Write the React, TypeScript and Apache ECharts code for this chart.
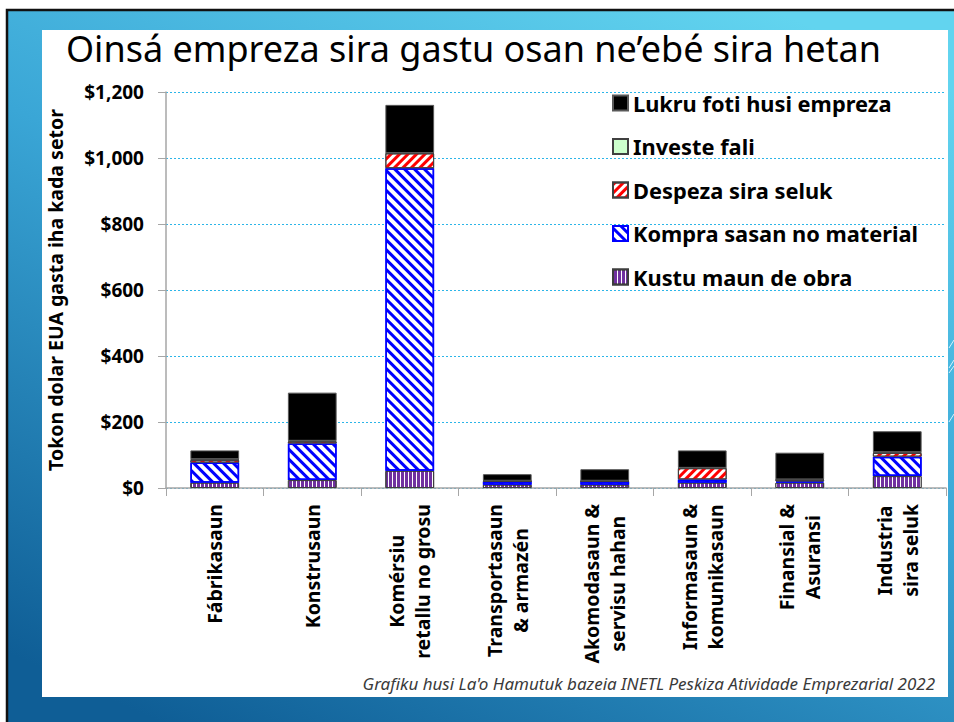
import React, { useEffect, useRef } from 'react';
import * as echarts from 'echarts';

const categories = [
  'Fábrikasaun',
  'Konstrusaun',
  'Komérsiu\nretallu no grosu',
  'Transportasaun\n& armazén',
  'Akomodasaun &\nservisu hahan',
  'Informasaun &\nkomunikasaun',
  'Finansial &\nAsuransi',
  'Industria\nsira seluk',
];
const kustuMaunDeObra = [16, 24, 52, 10, 10, 16, 16, 36];
const kompraSasanNoMaterial = [61, 111, 917, 10, 10, 10, 4, 59];
const despezaSiraSeluk = [8, 6, 45, 1, 1, 34, 5, 11];
const investeFali = [2, 2, 1, 1, 1, 1, 1, 2];
const lukruFotiHusiEmpreza = [27, 146, 146, 20, 35, 53, 81, 64];

const yMin = 0;
const yMax = 1200;
const yStep = 200;

const titleText = 'Oinsá empreza sira gastu osan ne’ebé sira hetan';
const yName = 'Tokon dolar EUA gasta iha kada setor';
const footer = "Grafiku husi La'o Hamutuk bazeia INETL Peskiza Atividade Emprezarial 2022";

const FONT = '"Noto Sans", "DejaVu Sans", sans-serif';

export default function App() {
  const ref = useRef<HTMLDivElement>(null);
  useEffect(() => {
    if (!ref.current) return;
    const chart = echarts.init(ref.current, undefined, { renderer: 'svg' });
    const stripeBlue = {
      symbol: 'rect', symbolSize: 1, symbolKeepAspect: false, color: '#0000ff',
      dashArrayX: [1, 0], dashArrayY: [3, 4], rotation: Math.PI / 4,
    };
    const stripeRed = {
      symbol: 'rect', symbolSize: 1, symbolKeepAspect: false, color: '#ff0000',
      dashArrayX: [1, 0], dashArrayY: [3, 3], rotation: -Math.PI / 4,
    };
    const stripePurple = {
      symbol: 'rect', symbolSize: 1, symbolKeepAspect: false, color: '#ffffff',
      dashArrayX: [1, 3], dashArrayY: [10, 0], rotation: 0,
    };
    const bar = (name: string, data: number[], itemStyle: any) => ({
      name, type: 'bar', stack: 'total', data, barWidth: '50%', itemStyle,
    });
    const option: any = {
      animation: false,
      graphic: [
        {
          type: 'rect', z: -10, silent: true,
          shape: { x: 7, y: 10, width: 960, height: 730 },
          style: {
            fill: {
              type: 'linear', x: 0.8, y: 0, x2: 0.2, y2: 1,
              colorStops: [
                { offset: 0, color: '#62d4ef' },
                { offset: 0.45, color: '#3aa6d6' },
                { offset: 1, color: '#0f5e96' },
              ],
            },
            stroke: '#111111', lineWidth: 2.5,
          },
        },
        {
          type: 'rect', z: -9, silent: true,
          shape: { x: 42, y: 30, width: 906, height: 667 },
          style: { fill: '#ffffff' },
        },
        { type: 'line', z: -8, shape: { x1: 949, y1: 348, x2: 954, y2: 340 }, style: { stroke: '#d8f2fb', lineWidth: 1 } },
        { type: 'line', z: -8, shape: { x1: 949, y1: 368, x2: 954, y2: 360 }, style: { stroke: '#d8f2fb', lineWidth: 1 } },
        { type: 'line', z: -8, shape: { x1: 949, y1: 373, x2: 954, y2: 366 }, style: { stroke: '#d8f2fb', lineWidth: 1 } },
        { type: 'line', z: -8, shape: { x1: 949, y1: 422, x2: 954, y2: 414 }, style: { stroke: '#d8f2fb', lineWidth: 1 } },
        {
          type: 'text', z: 5,
          style: {
            text: footer, x: 935, y: 692, align: 'right', verticalAlign: 'bottom',
            font: `italic 17px ${FONT}`, fill: '#3a3a3a',
          },
        },
        {
          type: 'text', z: 5,
          style: {
            text: titleText, x: 66, y: 48, align: 'left', verticalAlign: 'middle',
            font: `normal 36px ${FONT}`, fill: '#000000',
          },
        },
      ],
      legend: {
        orient: 'vertical', left: 607, top: 87, icon: 'rect',
        itemWidth: 15, itemHeight: 15, itemGap: 21.5,
        textStyle: { fontFamily: FONT, fontSize: 21.8, fontWeight: 'bold', color: '#000', lineHeight: 22 },
        data: [
          'Lukru foti husi empreza',
          'Investe fali',
          'Despeza sira seluk',
          'Kompra sasan no material',
          'Kustu maun de obra',
        ],
      },
      grid: { left: 166, right: 8, top: 92, bottom: 234 },
      xAxis: {
        type: 'category', data: categories,
        axisLine: { lineStyle: { color: '#a6a6a6', width: 1.5 } },
        axisTick: { show: true, length: 8, lineStyle: { color: '#a6a6a6' } },
        axisLabel: {
          rotate: 90, interval: 0, margin: 16,
          formatter: (v: string) => v.split('\n').map((l) => `{c|${l}}`).join('\n'),
          rich: {
            c: { align: 'center', fontFamily: FONT, fontSize: 19.5, fontWeight: 'bold', color: '#000', lineHeight: 26 },
          },
        },
      },
      yAxis: {
        type: 'value', min: yMin, max: yMax, interval: yStep,
        name: yName, nameLocation: 'middle', nameGap: 101, nameRotate: 90,
        nameTextStyle: { fontFamily: FONT, fontSize: 19.5, fontWeight: 'bold', color: '#000' },
        axisLine: { show: true, lineStyle: { color: '#a6a6a6', width: 1.5 } },
        axisTick: { show: true, length: 8, lineStyle: { color: '#a6a6a6' } },
        axisLabel: {
          formatter: (v: number) => '$' + v.toLocaleString('en-US'),
          fontFamily: FONT, fontSize: 19, fontWeight: 'bold', color: '#000', margin: 22,
        },
        splitLine: { lineStyle: { color: '#2cb5e8', type: [2, 2], width: 1 } },
      },
      series: [
        bar('Kustu maun de obra', kustuMaunDeObra, { color: '#7030a0', borderColor: '#3d3d3d', borderWidth: 1, decal: stripePurple }),
        bar('Kompra sasan no material', kompraSasanNoMaterial, { color: '#ffffff', borderColor: '#0000ff', borderWidth: 1.5, decal: stripeBlue }),
        bar('Despeza sira seluk', despezaSiraSeluk, { color: '#ffffff', borderColor: '#404040', borderWidth: 1, decal: stripeRed }),
        bar('Investe fali', investeFali, { color: '#ccffcc', borderColor: '#404040', borderWidth: 1 }),
        bar('Lukru foti husi empreza', lukruFotiHusiEmpreza, { color: '#000000', borderColor: '#595959', borderWidth: 1 }),
      ],
    };
    chart.setOption(option);
    return () => chart.dispose();
  }, []);
  return (
    <div
      ref={ref}
      style={{ position: 'fixed', left: 0, top: 0, width: 954, height: 722, background: '#ffffff' }}
    />
  );
}
